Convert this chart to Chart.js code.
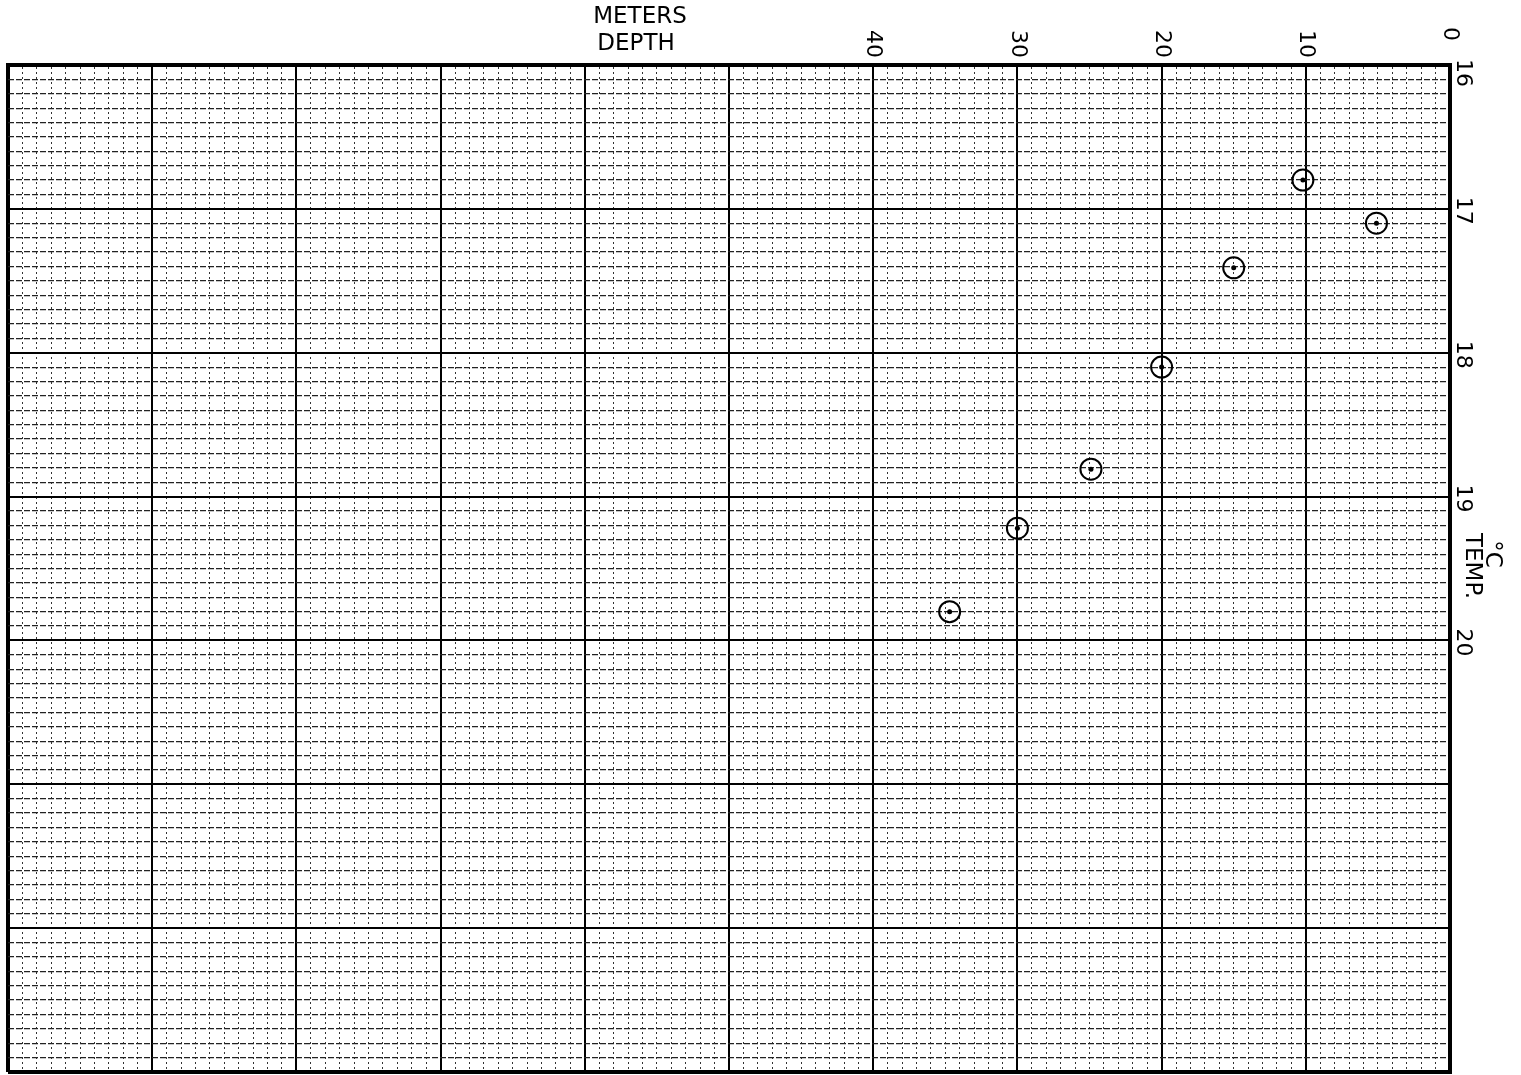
<!DOCTYPE html>
<html>
<head>
<meta charset="utf-8">
<script src="https://cdn.jsdelivr.net/npm/chart.js@4.4.1/dist/chart.umd.min.js"></script>
<style>
  html, body { margin: 0; padding: 0; background: #fff; }
  #wrap { width: 1521px; height: 1075px; position: relative; }
</style>
</head>
<body>
<div id="wrap"><canvas id="graph"></canvas></div>
<script>
const depthTicks = [0, 10, 20, 30, 40];
const tempTicks = [16, 17, 18, 19, 20];
const depths = [5.1, 10.2, 15, 20, 24.9, 30, 34.7];
const temps = [17.1, 16.8, 17.41, 18.1, 18.81, 19.22, 19.8];

const points = depths.map((d, i) => ({ x: d, y: temps[i] }));

function isMajor(v, unit) {
    const r = v / unit;
    return Math.abs(r - Math.round(r)) < 1e-6;
}

// Rótulos a mano (rotados como en el original)
const labelsPlugin = {
    id: 'labels',
    afterDraw(chart) {
        const ctx = chart.ctx;
        const xs = chart.scales.x;
        const ys = chart.scales.y;
        const right = chart.chartArea.right;
        ctx.save();
        ctx.fillStyle = '#000';
        ctx.textAlign = 'center';
        ctx.textBaseline = 'middle';

        ctx.font = '23px "DejaVu Sans"';
        ctx.fillText('METERS', 640, 17);
        ctx.fillText('DEPTH', 636, 44);

        const rot = (txt, x, y) => {
            ctx.save();
            ctx.translate(x, y);
            ctx.rotate(Math.PI / 2);
            ctx.fillText(txt, 0, 0);
            ctx.restore();
        };

        ctx.font = '22px "DejaVu Sans"';
        depthTicks.forEach(d => {
            const y = d === 0 ? 34 : 44;
            rot(String(d), xs.getPixelForValue(d), y);
        });
        tempTicks.forEach(t => {
            const y = t === 16 ? ys.getPixelForValue(t) + 8 : ys.getPixelForValue(t) + 2;
            rot(String(t), right + 13, y);
        });

        ctx.font = '23px "DejaVu Sans"';
        rot('TEMP.', right + 22, 566);
        rot('°C', right + 42, 554);
        ctx.restore();
    }
};

new Chart(document.getElementById('graph'), {
    type: 'scatter',
    data: {
        datasets: [{
            data: points,
            pointStyle: 'circle',
            pointRadius: 2.5,
            pointHoverRadius: 2.5,
            borderWidth: 0,
            backgroundColor: '#000'
        }, {
            data: points,
            pointStyle: 'circle',
            pointRadius: 10.5,
            pointHoverRadius: 10.5,
            borderColor: '#000',
            borderWidth: 2,
            backgroundColor: 'rgba(0,0,0,0)'
        }]
    },
    options: {
        responsive: true,
        maintainAspectRatio: false,
        animation: false,
        events: [],
        layout: { autoPadding: false, padding: { left: 8, right: 71, top: 65, bottom: 3 } },
        plugins: {
            legend: { display: false },
            tooltip: { enabled: false }
        },
        scales: {
            x: {
                type: 'linear',
                position: 'top',
                reverse: true,
                min: 0,
                max: 100,
                ticks: { display: false, stepSize: 1, autoSkip: false },
                grid: {
                    drawTicks: false,
                    color: ctx => isMajor(ctx.tick.value, 10) ? '#000' : '#333',
                    lineWidth: ctx => {
                        const v = ctx.tick.value;
                        if (v === 0 || v === 100) return 4;
                        return isMajor(v, 10) ? 2 : 1;
                    }
                },
                border: {
                    display: true,
                    color: '#000',
                    width: 4,
                    dash: ctx => isMajor(ctx.tick.value, 10) ? [] : [2, 3]
                }
            },
            y: {
                type: 'linear',
                position: 'right',
                reverse: true,
                min: 16,
                max: 23,
                ticks: { display: false, stepSize: 0.1, autoSkip: false },
                grid: {
                    drawTicks: false,
                    color: ctx => isMajor(ctx.tick.value, 1) ? '#000' : '#222',
                    lineWidth: ctx => {
                        const v = ctx.tick.value;
                        if (Math.abs(v - 16) < 1e-6 || Math.abs(v - 23) < 1e-6) return 4;
                        return isMajor(v, 1) ? 2 : 1.2;
                    }
                },
                border: {
                    display: true,
                    color: '#000',
                    width: 4,
                    dash: ctx => isMajor(ctx.tick.value, 1) ? [] : [6, 2]
                }
            }
        }
    },
    plugins: [labelsPlugin]
});
</script>
</body>
</html>
